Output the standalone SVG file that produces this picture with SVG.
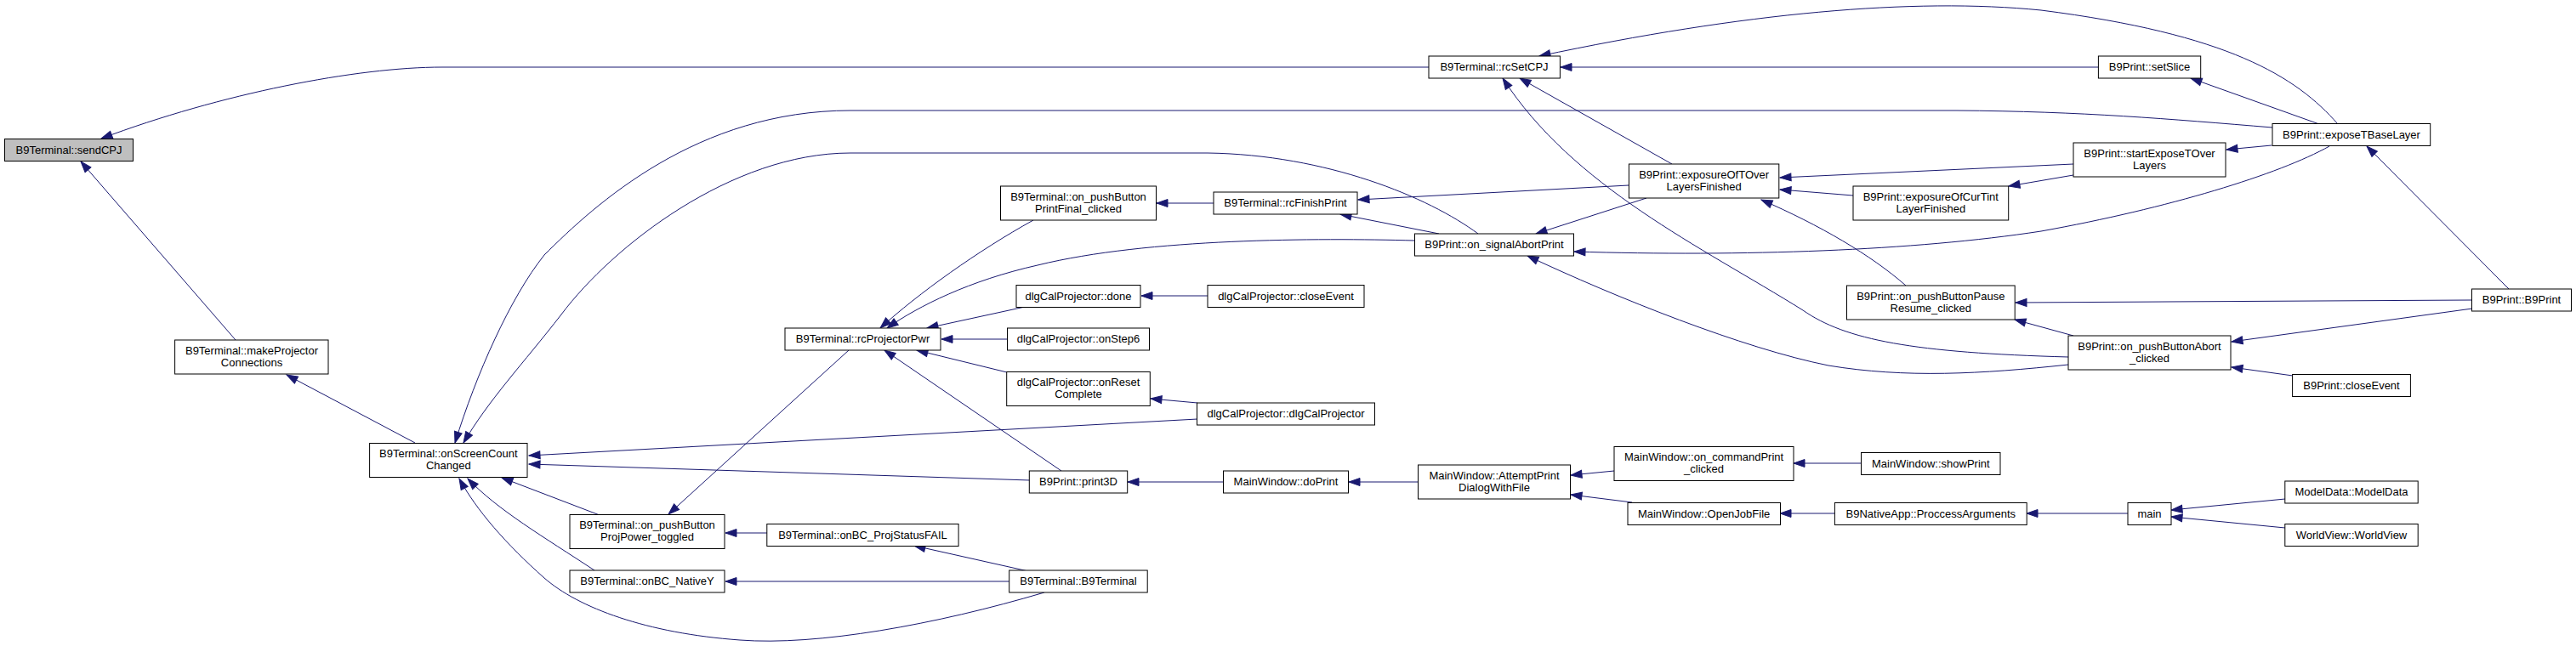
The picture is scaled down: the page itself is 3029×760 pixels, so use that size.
<svg xmlns="http://www.w3.org/2000/svg" width="3029" height="760" viewBox="0 0 3029 760">
<style>
.node rect{fill:#fff;stroke:#000;stroke-width:1}
.node rect.cur{fill:#bfbfbf}
.node text{font-family:"Liberation Sans",Arial,sans-serif;font-size:13px;text-anchor:middle;fill:#000}
.edges path{fill:none;stroke:#191970;stroke-width:1;marker-end:url(#ah)}
</style>
<defs>
<marker id="ah" markerWidth="14" markerHeight="10" refX="13" refY="4.5" orient="auto" markerUnits="userSpaceOnUse" style="overflow:visible"><path d="M0,0 L13,4.5 L0,9 z" fill="#191970" stroke="#191970" stroke-width="1"/></marker>
</defs>
<rect x="0" y="0" width="3029" height="760" fill="#fff"/>
<g class="edges">
<path d="M1680,79 L520,79 C420,79 260,110 119,163"/>
<path d="M277,400 L95,190"/>
<path d="M488,521 L337,441"/>
<path d="M2672,150 C2550,140 2450,131 2300,130 L1000,130 C820,130 700,240 640,300 C600,350 560,440 535,521"/>
<path d="M1738,275 C1680,232 1560,182 1420,180 L1000,180 C860,180 720,290 660,370 C615,428 575,470 545,521"/>
<path d="M705,606 L590,562"/>
<path d="M699,671 C640,632 585,600 550,563"/>
<path d="M1228,697 C1100,735 960,760 870,753 C760,745 680,715 640,680 C595,640 560,600 540,563"/>
<path d="M1408,493 L622,536"/>
<path d="M1211,565 L622,546"/>
<path d="M998,412 L786,605"/>
<path d="M902,627 L853,627"/>
<path d="M1209,672 L1075,642"/>
<path d="M1187,684 L853,684"/>
<path d="M1215,259 C1150,295 1080,345 1035,386"/>
<path d="M1663,283 C1550,280 1350,280 1220,312 C1140,330 1080,360 1043,386"/>
<path d="M1205,361 L1090,386"/>
<path d="M1184,399 L1107,399"/>
<path d="M1184,438 L1078,412"/>
<path d="M1248,554 L1040,412"/>
<path d="M1427,239 L1360,239"/>
<path d="M1420,348 L1342,348"/>
<path d="M1408,474 L1353,469"/>
<path d="M1438,567 L1326,567"/>
<path d="M1668,567 L1586,567"/>
<path d="M1692,275 L1576,252"/>
<path d="M1915,218 L1597,235"/>
<path d="M2749,146 C2700,90 2620,40 2400,12 C2250,-3 2050,15 1810,66"/>
<path d="M2467,79 L1835,79"/>
<path d="M1966,193 L1787,92"/>
<path d="M2432,420 C2250,415 2170,400 2120,365 C2000,290 1850,220 1767,92"/>
<path d="M2432,429 C2330,440 2240,445 2150,430 C2050,410 1900,350 1796,301"/>
<path d="M1936,233 L1806,275"/>
<path d="M2739,172 C2680,205 2550,245 2400,272 C2250,295 2050,302 1851,296"/>
<path d="M2438,193 L2093,209"/>
<path d="M2179,230 L2093,223"/>
<path d="M2241,336 C2200,300 2140,265 2071,235"/>
<path d="M2438,206 L2362,219"/>
<path d="M2907,353 L2370,356"/>
<path d="M2438,395 L2369,376"/>
<path d="M2727,146 L2576,92"/>
<path d="M2671,171 L2618,176"/>
<path d="M2950,340 L2783,172"/>
<path d="M2907,363 L2624,402"/>
<path d="M2696,442 L2624,432"/>
<path d="M1898,554 L1847,559"/>
<path d="M1919,591 L1847,582"/>
<path d="M2189,545 L2109,545"/>
<path d="M2157,604 L2093,604"/>
<path d="M2502,604 L2383,604"/>
<path d="M2687,587 L2553,600"/>
<path d="M2687,621 L2553,608"/>
</g>
<g id="n_sendCPJ" class="node"><rect class="cur" x="5.5" y="163.5" width="151" height="26"/><text x="81" y="180.5">B9Terminal::sendCPJ</text></g>
<g id="n_makeProjectorConnections" class="node"><rect x="205.6" y="400" width="180.4" height="40"/><text x="296" y="416.5">B9Terminal::makeProjector</text><text x="296" y="430.5">Connections</text></g>
<g id="n_onScreenCountChanged" class="node"><rect x="434.6" y="521.5" width="185.4" height="40"/><text x="527.3" y="538">B9Terminal::onScreenCount</text><text x="527.3" y="552">Changed</text></g>
<g id="n_projPowerToggled" class="node"><rect x="670" y="605.5" width="182" height="40"/><text x="761" y="622">B9Terminal::on_pushButton</text><text x="761" y="636">ProjPower_toggled</text></g>
<g id="n_onBC_NativeY" class="node"><rect x="670" y="671" width="182" height="26"/><text x="761" y="688">B9Terminal::onBC_NativeY</text></g>
<g id="n_onBC_ProjStatusFAIL" class="node"><rect x="901.8" y="616.5" width="225.3" height="26"/><text x="1014.5" y="633.5">B9Terminal::onBC_ProjStatusFAIL</text></g>
<g id="n_rcProjectorPwr" class="node"><rect x="923" y="386" width="183" height="26"/><text x="1014.5" y="403">B9Terminal::rcProjectorPwr</text></g>
<g id="n_B9Terminal" class="node"><rect x="1186.7" y="671" width="162.5" height="26"/><text x="1268" y="688">B9Terminal::B9Terminal</text></g>
<g id="n_printFinalClicked" class="node"><rect x="1176.5" y="219" width="183" height="40"/><text x="1268" y="235.5">B9Terminal::on_pushButton</text><text x="1268" y="249.5">PrintFinal_clicked</text></g>
<g id="n_dlgDone" class="node"><rect x="1195" y="335.5" width="146" height="26"/><text x="1268" y="352.5">dlgCalProjector::done</text></g>
<g id="n_dlgOnStep6" class="node"><rect x="1184.5" y="386" width="167" height="26"/><text x="1268" y="403">dlgCalProjector::onStep6</text></g>
<g id="n_dlgOnResetComplete" class="node"><rect x="1183.7" y="437.5" width="168.6" height="40"/><text x="1268" y="454">dlgCalProjector::onReset</text><text x="1268" y="468">Complete</text></g>
<g id="n_print3D" class="node"><rect x="1210.3" y="554" width="115.4" height="26"/><text x="1268" y="571">B9Print::print3D</text></g>
<g id="n_rcFinishPrint" class="node"><rect x="1427" y="226" width="169" height="26"/><text x="1511.5" y="243">B9Terminal::rcFinishPrint</text></g>
<g id="n_dlgCloseEvent" class="node"><rect x="1420" y="335.5" width="184" height="26"/><text x="1512" y="352.5">dlgCalProjector::closeEvent</text></g>
<g id="n_dlgCalProjector" class="node"><rect x="1407.5" y="474" width="209" height="26"/><text x="1512" y="491">dlgCalProjector::dlgCalProjector</text></g>
<g id="n_doPrint" class="node"><rect x="1438.5" y="554" width="147" height="26"/><text x="1512" y="571">MainWindow::doPrint</text></g>
<g id="n_rcSetCPJ" class="node"><rect x="1680" y="66" width="154.4" height="26"/><text x="1757" y="83">B9Terminal::rcSetCPJ</text></g>
<g id="n_onSignalAbortPrint" class="node"><rect x="1663.5" y="275" width="187" height="26"/><text x="1757" y="292">B9Print::on_signalAbortPrint</text></g>
<g id="n_attemptPrint" class="node"><rect x="1667.5" y="547" width="179" height="40"/><text x="1757" y="563.5">MainWindow::AttemptPrint</text><text x="1757" y="577.5">DialogWithFile</text></g>
<g id="n_exposureOfTOver" class="node"><rect x="1915.4" y="193" width="176.4" height="40"/><text x="2003.6" y="209.5">B9Print::exposureOfTOver</text><text x="2003.6" y="223.5">LayersFinished</text></g>
<g id="n_onCommandPrint" class="node"><rect x="1898" y="525.5" width="211" height="40"/><text x="2003.6" y="542">MainWindow::on_commandPrint</text><text x="2003.6" y="556">_clicked</text></g>
<g id="n_openJobFile" class="node"><rect x="1914" y="591.5" width="179.5" height="26"/><text x="2003.6" y="608.5">MainWindow::OpenJobFile</text></g>
<g id="n_exposureOfCurTint" class="node"><rect x="2179" y="219" width="182.7" height="40"/><text x="2270.3" y="235.5">B9Print::exposureOfCurTint</text><text x="2270.3" y="249.5">LayerFinished</text></g>
<g id="n_pauseResume" class="node"><rect x="2171.5" y="336" width="197.7" height="40"/><text x="2270.3" y="352.5">B9Print::on_pushButtonPause</text><text x="2270.3" y="366.5">Resume_clicked</text></g>
<g id="n_showPrint" class="node"><rect x="2188.5" y="532.5" width="163.5" height="26"/><text x="2270.3" y="549.5">MainWindow::showPrint</text></g>
<g id="n_proccessArguments" class="node"><rect x="2157.4" y="591.5" width="225.8" height="26"/><text x="2270.3" y="608.5">B9NativeApp::ProccessArguments</text></g>
<g id="n_setSlice" class="node"><rect x="2467.4" y="66" width="120.3" height="26"/><text x="2527.5" y="83">B9Print::setSlice</text></g>
<g id="n_startExposeTOver" class="node"><rect x="2438" y="168" width="179" height="40"/><text x="2527.5" y="184.5">B9Print::startExposeTOver</text><text x="2527.5" y="198.5">Layers</text></g>
<g id="n_abortClicked" class="node"><rect x="2432" y="395" width="191" height="40"/><text x="2527.5" y="411.5">B9Print::on_pushButtonAbort</text><text x="2527.5" y="425.5">_clicked</text></g>
<g id="n_main" class="node"><rect x="2502" y="591.5" width="51" height="26"/><text x="2527.5" y="608.5">main</text></g>
<g id="n_exposeTBaseLayer" class="node"><rect x="2672" y="145.5" width="185.7" height="26"/><text x="2765" y="162.5">B9Print::exposeTBaseLayer</text></g>
<g id="n_b9printCloseEvent" class="node"><rect x="2695.6" y="440.5" width="138.8" height="26"/><text x="2765" y="457.5">B9Print::closeEvent</text></g>
<g id="n_modelData" class="node"><rect x="2686.8" y="566" width="156.4" height="26"/><text x="2765" y="583">ModelData::ModelData</text></g>
<g id="n_worldView" class="node"><rect x="2686.8" y="616.5" width="156.4" height="26"/><text x="2765" y="633.5">WorldView::WorldView</text></g>
<g id="n_B9Print" class="node"><rect x="2906.5" y="340" width="117" height="26"/><text x="2965" y="357">B9Print::B9Print</text></g>
</svg>
